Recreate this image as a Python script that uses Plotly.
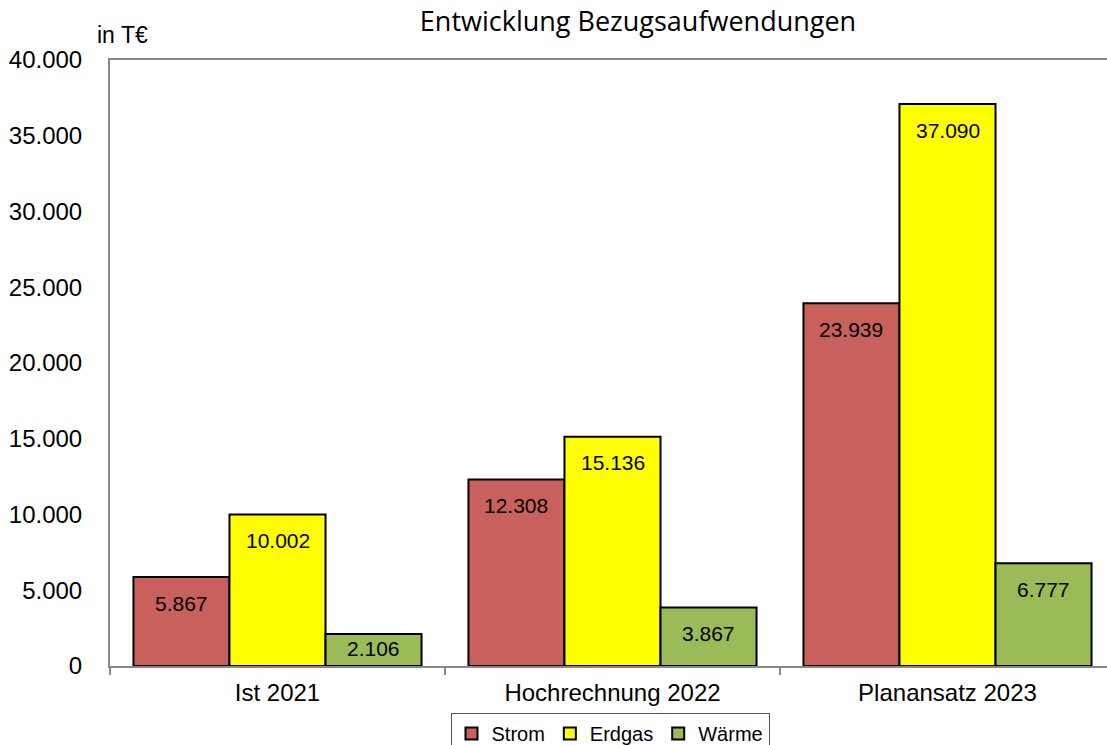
import plotly.graph_objects as go

categories = ["Ist 2021", "Hochrechnung 2022", "Planansatz 2023"]
series_names = ["Strom", "Erdgas", "Wärme"]
strom = [5867, 12308, 23939]
erdgas = [10002, 15136, 37090]
waerme = [2106, 3867, 6777]
colors = ["#C8605C", "#FFFF00", "#9BBB59"]

W, H = 1107, 745
ml, mr, mt, mb = 110, 0, 60, 79
plot_w = W - ml - mr
plot_h = H - mt - mb
cat_px = 335.0
x_range = [-0.5, -0.5 + plot_w / cat_px]
bargap = 0.14
ymax = 40000
bar_px = cat_px * (1 - bargap) / 3

fig = go.Figure()
all_vals = [strom, erdgas, waerme]
for name, vals, col in zip(series_names, all_vals, colors):
    fig.add_trace(go.Bar(
        name=name, x=categories, y=vals,
        marker=dict(color=col, line=dict(color="black", width=2)),
    ))

annotations = []
for i, vals in enumerate(all_vals):
    for j, v in enumerate(vals):
        h = v * plot_h / ymax
        off = min(26, h / 2 - 2)
        annotations.append(dict(
            x=categories[j], y=v, xref="x", yref="y",
            text=f"{v:,}".replace(",", "."),
            showarrow=False, xshift=(i - 1) * bar_px,
            yanchor="middle", yshift=-off,
            font=dict(family="Arial", size=21, color="black"),
        ))

annotations.append(dict(
    x=(122 - ml) / plot_w, y=1 + (mt - 35) / plot_h,
    xref="paper", yref="paper", text="in T€", showarrow=False,
    xanchor="center", yanchor="middle",
    font=dict(family="Arial", size=23, color="black"),
))

fig.update_layout(
    width=W, height=H,
    margin=dict(l=ml, r=mr, t=mt, b=mb, autoexpand=False),
    paper_bgcolor="white", plot_bgcolor="white",
    separators=",.",
    barmode="group", bargap=bargap, bargroupgap=0,
    title=dict(text="Entwicklung Bezugsaufwendungen", x=638 / W, xanchor="center",
               y=1 - 22 / H, yanchor="middle",
               font=dict(family="Open Sans", size=27, color="black")),
    xaxis=dict(range=x_range, showline=True, linecolor="#888888", linewidth=2,
               mirror=True, ticks="outside", tickson="boundaries", ticklen=7,
               tickcolor="#888888", tickwidth=1.5, ticklabelstandoff=4,
               tickfont=dict(family="Arial", size=24, color="black"),
               showgrid=False),
    yaxis=dict(range=[0, ymax], dtick=5000, tickformat=",d", showline=True,
               linecolor="#888888", linewidth=2, showgrid=False, zeroline=False,
               ticks="", ticklabelstandoff=21,
               tickfont=dict(family="Arial", size=24, color="black")),
    legend=dict(orientation="h", x=(610 - ml) / plot_w, xanchor="center",
                y=-(713 - (mt + plot_h)) / plot_h, yanchor="top",
                bordercolor="#555555", borderwidth=1, bgcolor="white",
                font=dict(family="Arial", size=20, color="black"),
                itemwidth=30, tracegroupgap=0),
    annotations=annotations,
    showlegend=True,
)

fig.write_html("out.html", config={"displayModeBar": False},
               post_script="document.body.style.margin='0';")
